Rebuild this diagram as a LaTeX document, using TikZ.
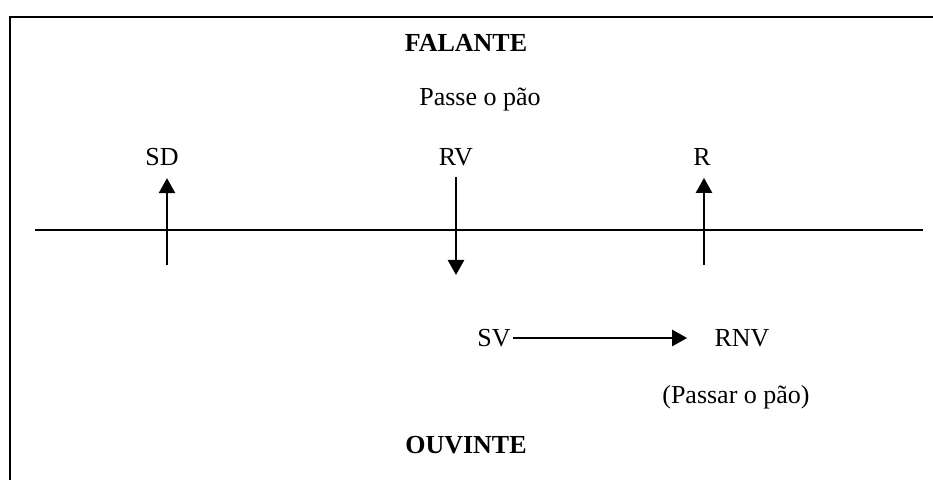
\documentclass[tikz,border=0pt]{standalone}
\usepackage{fontspec}
\setmainfont{Liberation Serif}
\usetikzlibrary{arrows.meta}

\begin{document}
\begin{tikzpicture}[x=0.5pt,y=-0.5pt,font=\fontsize{13}{15}\selectfont,
  every node/.style={inner sep=1pt},
  seta/.style={line width=1.3pt,-{Triangle[length=7.5pt,width=8pt]}}]
  \useasboundingbox (0,0) rectangle (933,480);
  \draw[line width=1pt] (10,17) rectangle (960,520);
  \node (falante) at (466,43) {\textbf{FALANTE}};
  \node (passe) at (480,100) {Passe o pão};
  \node (sd) at (162,157) {SD};
  \node (rv) at (456,157) {RV};
  \node (r) at (702,157) {R};
  \coordinate (eixo1) at (35,230);
  \coordinate (eixo2) at (923,230);
  \coordinate (sdpe) at (167,265);
  \coordinate (rvpe) at (456,275);
  \coordinate (rpe) at (704,265);
  \node (sv) at (494,338) {SV};
  \node (rnv) at (742,338) {RNV};
  \node (passar) at (736,397) {(Passar o pão)};
  \node (ouvinte) at (466,445) {\textbf{OUVINTE}};
  \draw[line width=0.8pt] (eixo1) -- (eixo2);
  \path (sdpe) edge[seta,shorten >=5pt] (sdpe |- sd.south)
        (rv.south -| rvpe) edge[seta,shorten <=4.5pt] (rvpe)
        (rpe) edge[seta,shorten >=5pt] (rpe |- r.south)
        (sv) edge[seta,shorten >=12.5pt] (rnv);
\end{tikzpicture}
\end{document}
